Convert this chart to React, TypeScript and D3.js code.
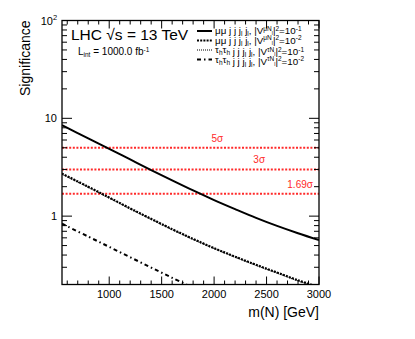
import React from "react"
import * as d3 from "d3"

// masses (GeV) and significances
const massSolid = [550, 800, 1000, 1200, 1400, 1600, 1800, 2000, 2200, 2400, 2600, 2800, 3000]
const sigMuMu1 = [8.5, 6.24, 4.88, 3.8, 2.96, 2.32, 1.83, 1.46, 1.18, 0.96, 0.794, 0.668, 0.569]
const sigMuMu2 = [2.72, 2.0, 1.55, 1.2, 0.938, 0.736, 0.585, 0.471, 0.385, 0.318, 0.265, 0.221, 0.188]
const sigTauTau1 = [2.68, 1.97, 1.53, 1.185, 0.927, 0.728, 0.578, 0.466, 0.381, 0.314, 0.262, 0.218, 0.185]
const massTau2 = [550, 800, 1000, 1200, 1400, 1600, 1800]
const sigTauTau2 = [0.836, 0.618, 0.485, 0.38, 0.298, 0.234, 0.185]

const sigmaLevels = [5, 3, 1.69]
const sigmaLabels = ["5σ", "3σ", "1.69σ"]
const sigmaLabelMass = [2030, 2430, 2820]

const xMajor = [1000, 1500, 2000, 2500, 3000]

const W = 415
const H = 339
const m = { left: 62, right: 319, top: 20.5, bottom: 284.5 }
const FONT = "'Liberation Sans', Arial, Helvetica, sans-serif"
const RED = "#ff2a2a"

const x = d3.scaleLinear().domain([550, 3000]).range([m.left, m.right])
const y = d3.scaleLog().domain([0.2, 100]).range([m.bottom, m.top])

const line = d3
    .line<[number, number]>()
    .x(d => x(d[0]))
    .y(d => y(d[1]))
    .curve(d3.curveCatmullRom)

const zip = (ms: number[], vs: number[]) => ms.map((v, i) => [v, vs[i]] as [number, number])

const curves = [
    { data: zip(massSolid, sigMuMu1), width: 2, dash: "" },
    { data: zip(massSolid, sigMuMu2), width: 2.2, dash: "2 1.2" },
    { data: zip(massSolid, sigTauTau1), width: 1.1, dash: "1 1" },
    { data: zip(massTau2, sigTauTau2), width: 2, dash: "4 3 1.5 3" },
]

// minor ticks every 100 GeV, log minors 2..9
const xMinor = d3.range(600, 3001, 100).filter(v => v % 500 !== 0)
const yMajor = [1, 10, 100]
const yMinor: number[] = []
for (const dec of [0.1, 1, 10]) {
    for (let k = 2; k <= 9; k++) {
        const v = dec * k
        if (v >= 0.2 && v < 100) yMinor.push(v)
    }
}

function Legend() {
    const rows = [0, 1, 2, 3]
    const lx = 197
    const ty = [34, 43.5, 53, 62.5]
    const small = 6.5
    return (
        <g fontFamily={FONT} fontSize={9.8}>
            {rows.map(i => (
                <g key={i}>
                    <line
                        x1={lx}
                        x2={lx + 15}
                        y1={ty[i] - 3}
                        y2={ty[i] - 3}
                        stroke="#000"
                        strokeWidth={curves[i].width}
                        strokeDasharray={curves[i].dash}
                    />
                    <text x={lx + 18} y={ty[i]}>
                        {i < 2 ? (
                            <tspan>μμ</tspan>
                        ) : (
                            <>
                                <tspan>τ</tspan>
                                <tspan fontSize={small} dy={2}>h</tspan>
                                <tspan dy={-2}>τ</tspan>
                                <tspan fontSize={small} dy={2}>h</tspan>
                                <tspan dy={-2}></tspan>
                            </>
                        )}
                        <tspan> j j j</tspan>
                        <tspan fontSize={small} dy={2}>l</tspan>
                        <tspan dy={-2}> j</tspan>
                        <tspan fontSize={small} dy={2}>l</tspan>
                        <tspan dy={-2}>, |V</tspan>
                        <tspan fontSize={small} dy={-3.5}>{i < 2 ? "μN" : "τN"}</tspan>
                        <tspan fontSize={5} dy={4.5}>l</tspan>
                        <tspan dy={-1}>|</tspan>
                        <tspan fontSize={small} dy={-3.5}>2</tspan>
                        <tspan dy={3.5}>=10</tspan>
                        <tspan fontSize={small} dy={-3.5}>{i % 2 === 0 ? "-1" : "-2"}</tspan>
                    </text>
                </g>
            ))}
        </g>
    )
}

export default function App() {
    const tickMaj = 8
    const tickMin = 4
    const yTickMaj = 10
    const yTickMin = 5
    return (
        <svg
            width={W}
            height={H}
            style={{ position: "absolute", left: 0, top: 0, background: "#fff" }}
        >
            <defs>
                <clipPath id="plotArea">
                    <rect x={m.left} y={m.top} width={m.right - m.left} height={m.bottom - m.top} />
                </clipPath>
            </defs>

            {/* sigma reference lines */}
            {sigmaLevels.map((s, i) => (
                <g key={s}>
                    <line
                        x1={m.left}
                        x2={m.right}
                        y1={y(s)}
                        y2={y(s)}
                        stroke={RED}
                        strokeWidth={2}
                        strokeDasharray="2 1.6"
                    />
                    <text
                        x={x(sigmaLabelMass[i])}
                        y={y(s) - 6}
                        fill={RED}
                        fontFamily={FONT}
                        fontSize={10}
                        textAnchor="middle"
                    >
                        {sigmaLabels[i]}
                    </text>
                </g>
            ))}

            {/* significance curves */}
            <g clipPath="url(#plotArea)">
                {curves.map((c, i) => (
                    <path
                        key={i}
                        d={line(c.data) || ""}
                        fill="none"
                        stroke="#000"
                        strokeWidth={c.width}
                        strokeDasharray={c.dash}
                    />
                ))}
            </g>

            {/* axis ticks on all four sides */}
            <g stroke="#000" strokeWidth={1}>
                {xMajor.map(v => (
                    <g key={"xM" + v}>
                        <line x1={x(v)} x2={x(v)} y1={m.bottom} y2={m.bottom - tickMaj} />
                        <line x1={x(v)} x2={x(v)} y1={m.top} y2={m.top + tickMaj} />
                    </g>
                ))}
                {xMinor.map(v => (
                    <g key={"xm" + v}>
                        <line x1={x(v)} x2={x(v)} y1={m.bottom} y2={m.bottom - tickMin} />
                        <line x1={x(v)} x2={x(v)} y1={m.top} y2={m.top + tickMin} />
                    </g>
                ))}
                {yMajor.map(v => (
                    <g key={"yM" + v}>
                        <line x1={m.left} x2={m.left + yTickMaj} y1={y(v)} y2={y(v)} />
                        <line x1={m.right} x2={m.right - yTickMaj} y1={y(v)} y2={y(v)} />
                    </g>
                ))}
                {yMinor.map(v => (
                    <g key={"ym" + v}>
                        <line x1={m.left} x2={m.left + yTickMin} y1={y(v)} y2={y(v)} />
                        <line x1={m.right} x2={m.right - yTickMin} y1={y(v)} y2={y(v)} />
                    </g>
                ))}
            </g>

            {/* frame */}
            <rect
                x={m.left}
                y={m.top}
                width={m.right - m.left}
                height={m.bottom - m.top}
                fill="none"
                stroke="#000"
                strokeWidth={1.3}
            />

            {/* tick labels */}
            <g fontFamily={FONT} fontSize={11}>
                {xMajor.map(v => (
                    <text key={"xl" + v} x={x(v)} y={298} textAnchor="middle">
                        {v}
                    </text>
                ))}
                <text x={m.left - 5} y={y(10) + 4} textAnchor="end">10</text>
                <text x={m.left - 5} y={y(1) + 4} textAnchor="end">1</text>
                <text x={m.left - 9} y={y(100) + 4} textAnchor="end">10</text>
                <text x={m.left - 9} y={y(100) - 1} fontSize={7.5}>2</text>
            </g>

            {/* axis titles */}
            <text
                x={m.right}
                y={317}
                textAnchor="end"
                fontFamily={FONT}
                fontSize={14}
            >
                m(N) [GeV]
            </text>
            <text
                transform={`translate(30, ${m.top}) rotate(-90)`}
                textAnchor="end"
                fontFamily={FONT}
                fontSize={14}
            >
                Significance
            </text>

            {/* labels */}
            <text x={71} y={39.5} fontFamily={FONT} fontSize={15.5}>
                LHC √s = 13 TeV
            </text>
            <text x={78} y={55} fontFamily={FONT} fontSize={10}>
                L<tspan fontSize={6.5} dy={2}>int</tspan>
                <tspan dy={-2}> = 1000.0 fb</tspan>
                <tspan fontSize={6.5} dy={-3.5}>-1</tspan>
            </text>
            <Legend />
        </svg>
    )
}
